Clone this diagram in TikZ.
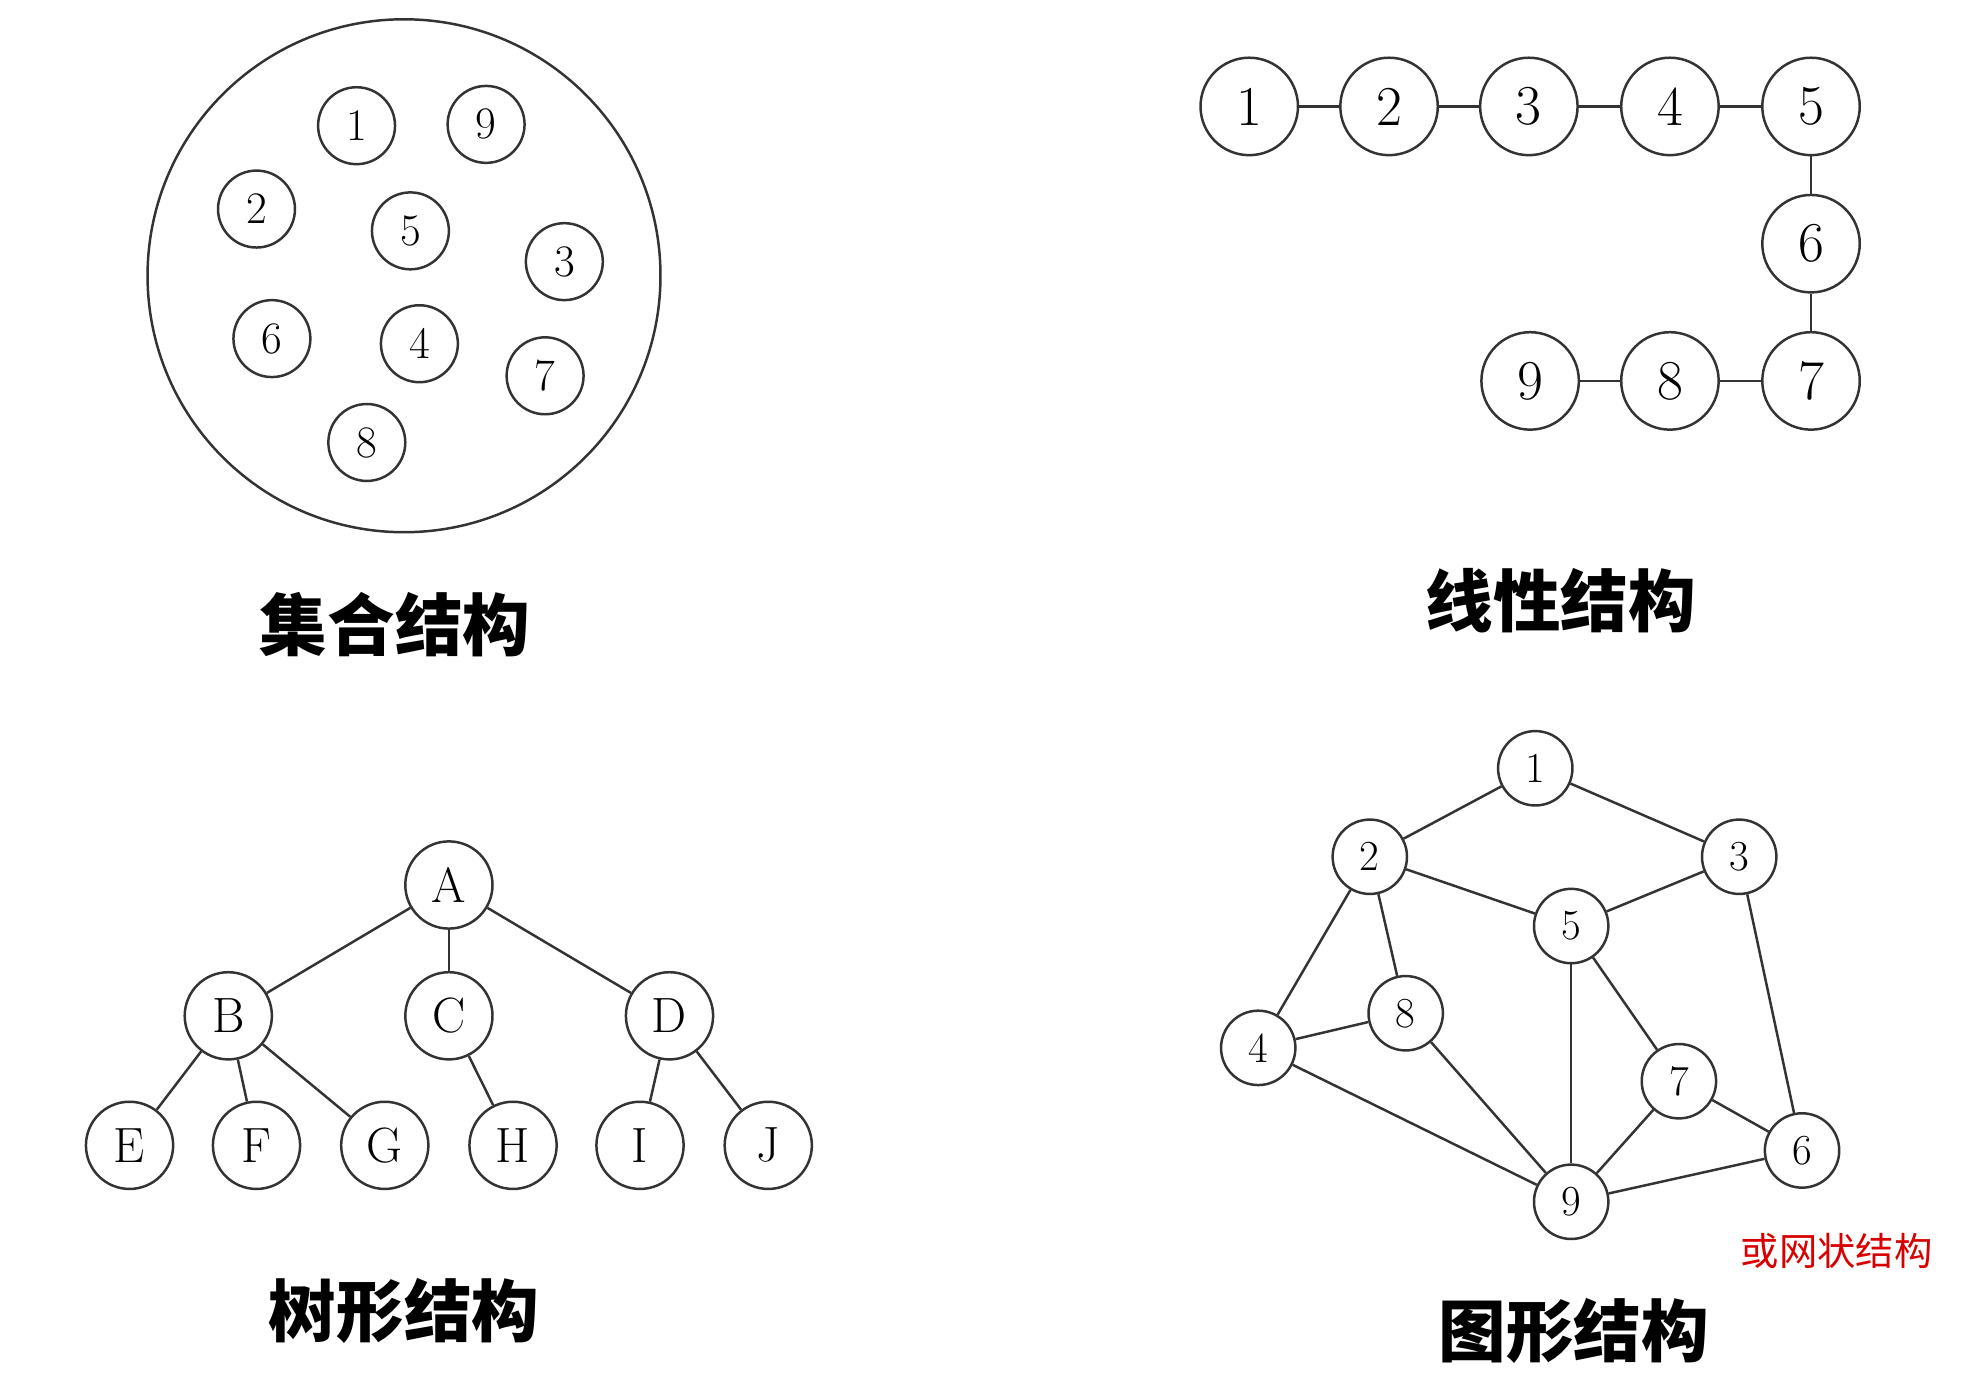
\documentclass[tikz,border=0pt]{standalone}
\usepackage{fontspec}
\newfontfamily\cjk{Noto Sans CJK SC}
\usetikzlibrary{positioning}

\begin{document}
\begin{tikzpicture}[
  x=0.02cm, y=-0.02cm, line width=1.1pt, draw=black!80,
  setnode/.style={circle, draw, minimum size=1.2cm, inner sep=0pt, font=\fontsize{20}{20}\selectfont},
  linnode/.style={circle, draw, minimum size=1.52cm, inner sep=0pt, font=\fontsize{25}{25}\selectfont},
  treenode/.style={circle, draw, minimum size=1.36cm, inner sep=0pt, font=\fontsize{22}{22}\selectfont},
  graphnode/.style={circle, draw, minimum size=1.16cm, inner sep=0pt, font=\fontsize{19}{19}\selectfont},
  title/.style={font=\cjk\bfseries\fontsize{30}{32}\selectfont}
]
\useasboundingbox (0,0) rectangle (1550,1070);

% set structure
\node[circle, draw, minimum size=8cm, inner sep=0pt] (setring) at (315,215) {};
\foreach \n/\x/\y in {1/278/98, 9/379/97, 2/200/163, 5/320/180, 3/440/204,
                      6/212/264, 4/327/268, 7/425/293, 8/286/345}
  \node[setnode] (s\n) at (\x,\y) {\n};
\node[title] (settitle) at (308,487) {集合结构};

% linear structure
\foreach \n/\x/\y in {1/974/83, 2/1083/83, 3/1192/83, 4/1302/83, 5/1412/83,
                      6/1412/190, 7/1412/297, 8/1302/297, 9/1193/297}
  \node[linnode] (l\n) at (\x,\y) {\n};
\foreach \a/\b in {1/2, 2/3, 3/4, 4/5, 5/6, 6/7, 7/8, 8/9}
  \draw (l\a) -- (l\b);
\node[title] (lintitle) at (1217,468) {线性结构};

% tree structure
\foreach \n/\x/\y in {A/350/690, B/178/792, C/350/792, D/522/792,
                      E/101/893, F/200/893, G/300/893, H/400/893, I/499/893, J/599/893}
  \node[treenode] (t\n) at (\x,\y) {\n};
\foreach \a/\b in {A/B, A/C, A/D, B/E, B/F, B/G, C/H, D/I, D/J}
  \draw (t\a) -- (t\b);
\node[title] (treetitle) at (315,1022) {树形结构};

% graph structure
\foreach \n/\x/\y in {1/1197/599, 2/1068/668, 3/1356/668, 5/1225/722, 8/1096/790,
                      4/981/817, 7/1309/843, 6/1405/897, 9/1225/937}
  \node[graphnode] (g\n) at (\x,\y) {\n};
\foreach \a/\b in {1/2, 1/3, 2/5, 5/3, 2/4, 2/8, 4/8, 4/9, 8/9,
                   5/9, 5/7, 7/9, 7/6, 3/6, 9/6}
  \draw (g\a) -- (g\b);
\node[title] (graphtitle) at (1227,1038) {图形结构};
\node[font=\cjk\fontsize{17}{18}\selectfont, text=red!85!black] (graphnote) at (1432,975) {或网状结构};

\end{tikzpicture}
\end{document}
